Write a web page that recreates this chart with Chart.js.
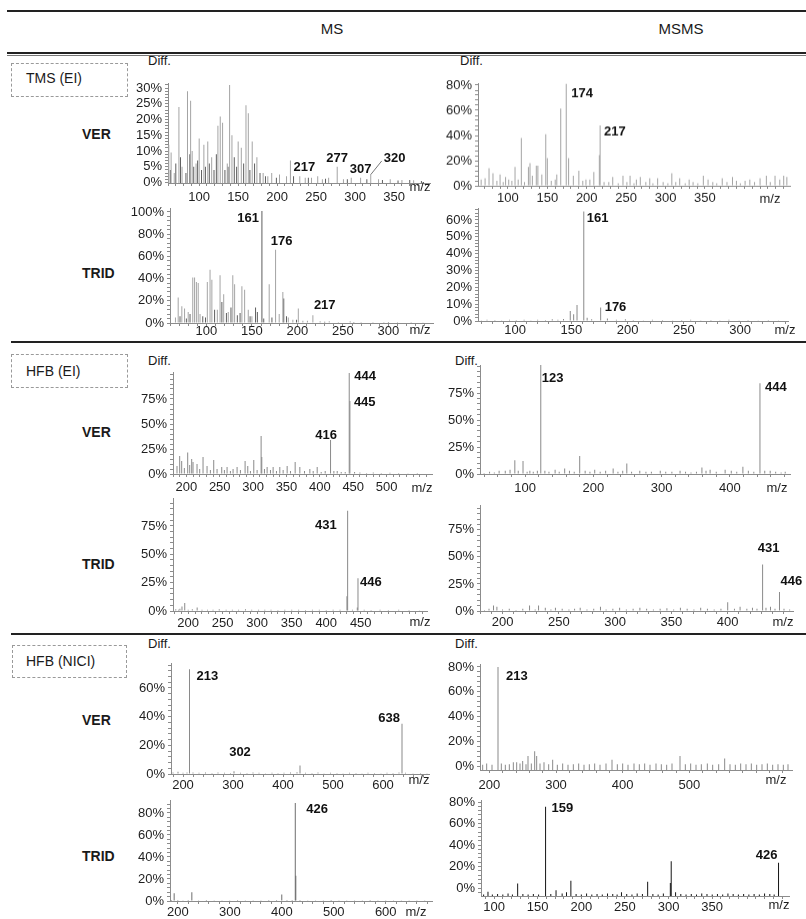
<!DOCTYPE html>
<html>
<head>
<meta charset="utf-8">
<title>Difference spectra – VER / TRID</title>
<script src="https://cdn.jsdelivr.net/npm/chart.js@4.4.1/dist/chart.umd.min.js"></script>
<style>
  html, body { margin: 0; padding: 0; background: #fff; }
  body { width: 806px; height: 919px; position: relative; overflow: hidden;
         font-family: "Liberation Sans", Arial, sans-serif; color: #1a1a1a; }
  .t { position: absolute; white-space: nowrap; line-height: 1; transform: translateY(-50%); }
  .c { transform: translate(-50%, -50%); }
  .b { font-weight: bold; font-size: 14px; }
  .hr { position: absolute; background: #222; }
  .box { position: absolute; border: 1px dashed #9a9a9a; box-sizing: border-box; }
  canvas { position: absolute; }
</style>
</head>
<body>

<!-- header rules and column titles -->
<div class="hr" style="left:7px;top:10px;width:799px;height:2px;"></div>
<div class="t c" style="left:332px;top:28px;font-size:15px;">MS</div>
<div class="t c" style="left:681px;top:28px;font-size:15px;">MSMS</div>
<div class="hr" style="left:7px;top:52px;width:799px;height:2px;"></div>
<div class="hr" style="left:7px;top:55px;width:799px;height:1px;background:#777;"></div>
<div class="hr" style="left:11px;top:341px;width:795px;height:2px;"></div>
<div class="hr" style="left:11px;top:633px;width:795px;height:2px;"></div>

<!-- derivatisation / ionisation boxes -->
<div class="box" style="left:11px;top:63px;width:117px;height:34px;"></div>
<div class="t" style="left:26px;top:78px;font-size:14px;">TMS (EI)</div>
<div class="box" style="left:11px;top:354px;width:117px;height:34px;"></div>
<div class="t" style="left:26px;top:371px;font-size:14px;">HFB (EI)</div>
<div class="box" style="left:12px;top:645px;width:115px;height:33px;"></div>
<div class="t" style="left:26px;top:661px;font-size:14px;">HFB (NICI)</div>

<!-- row labels -->
<div class="t b" style="left:82px;top:134px;">VER</div>
<div class="t b" style="left:82px;top:273px;">TRID</div>
<div class="t b" style="left:82px;top:432px;">VER</div>
<div class="t b" style="left:82px;top:564px;">TRID</div>
<div class="t b" style="left:82px;top:720px;">VER</div>
<div class="t b" style="left:82px;top:856px;">TRID</div>

<!-- y axis captions -->
<div class="t" style="left:148px;top:60px;font-size:13px;">Diff.</div>
<div class="t" style="left:460px;top:60px;font-size:13px;">Diff.</div>
<div class="t" style="left:148px;top:360px;font-size:13px;">Diff.</div>
<div class="t" style="left:455px;top:360px;font-size:13px;">Diff.</div>
<div class="t" style="left:148px;top:643px;font-size:13px;">Diff.</div>
<div class="t" style="left:455px;top:643px;font-size:13px;">Diff.</div>

<script>
// ---------------- data: m/z positions and difference (%) ----------------

// TMS (EI) – MS – VER
const tmsMsVerMz = [61, 64, 68, 74, 78, 85, 89, 91, 96, 100, 106, 111, 116, 124, 127, 130, 136, 139, 142, 150, 154, 160, 163, 168, 174, 182, 188, 193, 203, 212, 217, 229, 236, 244, 252, 258, 266, 277, 285, 295, 307, 320, 330, 345, 360, 375];
const tmsMsVerPct = [12, 9.5, 3, 24, 5, 29, 26, 10, 6, 14, 12, 13, 8, 18, 21, 19, 6, 31, 15, 13, 11, 24.5, 22, 13, 8, 3, 2, 3, 2.5, 2, 7, 2, 1.5, 1.5, 2, 1, 1.5, 5, 1, 1.5, 1.5, 2.5, 1, 1, 0.8, 0.7];
const tmsMsVerMz2 = [63, 70, 76, 83, 88, 93, 98, 103, 108, 113, 119, 122, 133, 137, 145, 148, 157, 165, 171, 178, 185, 199, 221, 240, 262, 290, 315, 335, 355, 370, 385];
const tmsMsVerPct2 = [4, 6, 8, 3, 9, 5, 7, 4, 5, 6, 4, 9, 4, 5, 8, 5, 6, 4, 6, 3, 2, 1.5, 2, 1.5, 1.2, 1, 1, 0.8, 0.6, 0.8, 0.5];
const tmsMsVerXTicks = [100, 150, 200, 250, 300, 350];
const tmsMsVerYTicks = [0, 5, 10, 15, 20, 25, 30];

// TMS (EI) – MSMS – VER
const tmsMsmsVerMz = [66, 71, 76, 81, 86, 90, 94, 97, 101, 105, 109, 113, 117, 121, 126, 128, 131, 136, 138, 143, 148, 150, 155, 160, 162, 167, 174, 177, 183, 190, 195, 199, 204, 209, 216, 217, 222, 228, 233, 240, 246, 251, 255, 260, 263, 268, 275, 280, 284, 290, 297, 303, 308, 313, 318, 325, 330, 335, 341, 348, 354, 360, 365, 372, 378, 385, 390, 395, 401, 407, 413, 420, 428, 433, 439, 445, 450, 454];
const tmsMsmsVerPct = [5, 6, 14, 10, 4, 9, 3, 7, 5, 4, 15, 5, 38, 3, 15, 18, 8, 16, 16, 9, 41, 22, 4, 5, 9, 61.5, 81, 22, 8, 12, 4, 5, 5, 11, 24.5, 48, 3, 3, 7, 2, 8, 3, 8, 2, 5, 7, 3, 6, 2, 6, 3, 2, 10, 3, 6, 2, 5, 3, 2, 8, 5, 3, 2, 6, 3, 7, 4, 2, 4, 5, 3, 6, 8, 3, 8, 5, 8, 7];
const tmsMsmsVerXTicks = [100, 150, 200, 250, 300, 350];
const tmsMsmsVerYTicks = [0, 20, 40, 60, 80];

// TMS (EI) – MS – TRID
const tmsMsTridMz = [66, 69, 73, 76, 80, 85, 87, 89, 91, 93, 101, 104, 106, 112, 115, 119, 124, 129, 131, 139, 142, 146, 150, 169, 176, 180, 184, 190, 195, 201, 206, 211, 217, 225, 235, 245, 258, 270, 283, 295, 310, 325, 338];
const tmsMsTridPct = [5, 23, 15, 13, 10, 41, 41, 37, 36, 8, 37, 48, 39, 12, 43, 26, 10, 43, 35, 33, 30, 12, 6, 35, 66, 8, 28, 5, 3, 13, 2, 2, 7, 1.5, 1.5, 1, 1.5, 1, 1, 0.8, 1, 1, 0.7];
const tmsMsTridMz2 = [71, 78, 82, 96, 99, 109, 117, 122, 127, 134, 137, 148, 154, 156, 161, 163, 172, 185, 188, 199, 230, 262, 300];
const tmsMsTridPct2 = [6, 4, 8, 6, 5, 12, 19, 9, 14, 7, 9, 6, 14, 10, 101, 4, 5, 22, 6, 3, 1.2, 1, 0.8];
const tmsMsTridXTicks = [100, 150, 200, 250, 300];
const tmsMsTridYTicks = [0, 20, 40, 60, 80, 100];

// TMS (EI) – MSMS – TRID
const tmsMsmsTridMz = [70, 75, 82, 88, 95, 101, 108, 114, 120, 127, 133, 138, 143, 149, 152, 155, 161, 164, 168, 176, 182, 190, 198, 205, 214, 222, 231, 240, 248, 256, 265, 274, 282, 290, 299, 307, 316, 325, 334];
const tmsMsmsTridPct = [0.5, 0.8, 0.6, 0.5, 0.7, 0.6, 0.8, 0.5, 0.7, 0.6, 1, 0.8, 1.2, 6, 4, 9.5, 65, 2, 1, 8, 1.5, 0.8, 1, 0.6, 0.5, 0.7, 0.6, 0.5, 0.6, 0.7, 0.5, 0.6, 0.5, 0.7, 0.5, 0.6, 0.5, 0.6, 0.5];
const tmsMsmsTridXTicks = [100, 150, 200, 250, 300];
const tmsMsmsTridYTicks = [0, 10, 20, 30, 40, 50, 60];

// HFB (EI) – MS – VER
const hfbEiMsVerMz = [186, 190, 193, 197, 202, 205, 208, 210, 216, 220, 225, 231, 236, 241, 246, 253, 257, 261, 266, 270, 276, 281, 288, 292, 296, 301, 306, 312, 313, 317, 321, 326, 330, 335, 340, 345, 351, 356, 363, 370, 377, 385, 390, 396, 402, 408, 416, 421, 426, 432, 438, 444, 445, 452, 460, 470, 480, 492, 505, 518, 532, 546];
const hfbEiMsVerPct = [8, 18, 13, 6, 21.5, 9, 15, 12, 10, 5, 17, 8, 4, 14, 5, 7, 4, 7, 3, 5, 7, 4, 13, 8, 3, 14, 4, 38, 17, 5, 7, 4, 7, 3, 7, 4, 8, 3, 12, 7, 3, 5, 3, 7, 2, 3, 34, 3, 3, 2, 2, 101, 73, 2, 1.5, 1, 1.5, 1, 1.2, 1, 0.8, 1];
const hfbEiMsVerXTicks = [200, 250, 300, 350, 400, 450, 500];
const hfbEiMsVerYTicks = [0, 25, 50, 75];

// HFB (EI) – MSMS – VER
const hfbEiMsmsVerMz = [40, 48, 55, 62, 71, 78, 85, 90, 97, 103, 107, 112, 118, 123, 129, 135, 144, 150, 158, 165, 172, 180, 188, 195, 202, 210, 218, 229, 236, 243, 249, 256, 268, 277, 285, 298, 306, 315, 327, 335, 343, 351, 359, 365, 371, 380, 393, 402, 410, 419, 427, 435, 444, 451, 459, 467, 475, 481];
const hfbEiMsmsVerPct = [1, 2, 1.5, 3, 3, 4, 12.7, 3, 12, 2, 3, 2, 3, 101, 3, 2, 4, 2, 5, 3, 2, 16.7, 3, 2, 4, 2, 3, 5, 2, 3, 9.7, 2, 3, 2, 2, 3, 2, 2, 3, 2, 1.5, 2, 6, 3, 4, 2, 4, 3, 2, 6.7, 3, 2, 84, 3, 3, 2, 1.5, 2];
const hfbEiMsmsVerXTicks = [100, 200, 300, 400];
const hfbEiMsmsVerYTicks = [0, 25, 50, 75];

// HFB (EI) – MS – TRID
const hfbEiMsTridMz = [182, 186, 188, 191, 195, 200, 206, 213, 220, 228, 236, 245, 255, 264, 273, 283, 292, 302, 311, 320, 330, 340, 350, 360, 370, 380, 390, 400, 410, 420, 430, 431, 438, 445, 446, 455, 465, 478, 490, 505, 520, 535];
const hfbEiMsTridPct = [1.5, 1, 2, 4, 7, 1, 1.5, 3, 1, 1.2, 1, 1.5, 1, 1.2, 1, 1.5, 1, 1, 1.2, 1, 0.8, 1, 1.2, 1, 0.8, 1, 1, 0.8, 1, 1.2, 13, 88.5, 1, 3, 29, 1, 0.8, 1, 0.8, 1, 0.8, 0.7];
const hfbEiMsTridXTicks = [200, 250, 300, 350, 400, 450];
const hfbEiMsTridYTicks = [0, 25, 50, 75];

// HFB (EI) – MSMS – TRID
const hfbEiMsmsTridMz = [184, 188, 192, 195, 200, 206, 212, 218, 224, 229, 232, 238, 243, 247, 253, 259, 264, 269, 275, 281, 287, 292, 298, 304, 310, 316, 322, 328, 334, 340, 346, 352, 358, 364, 370, 376, 382, 388, 394, 400, 406, 411, 417, 422, 426, 431, 434, 438, 442, 446, 450, 455];
const hfbEiMsmsTridPct = [1, 2, 5, 4, 1.5, 2, 1, 2, 5, 1.5, 5, 3, 1.5, 3, 2, 1.5, 2, 3, 1.5, 2, 4, 1.5, 2, 3, 1.5, 2, 3, 2, 1.5, 2, 2.5, 1.5, 3, 2, 1.5, 3, 2, 1.5, 2, 8, 2, 4, 2, 3, 2, 43, 3, 4, 2, 17.5, 2, 1.5];
const hfbEiMsmsTridXTicks = [200, 250, 300, 350, 400];
const hfbEiMsmsTridYTicks = [0, 25, 50, 75];

// HFB (NICI) – MS – VER
const hfbNiciMsVerMz = [180, 190, 200, 208, 213, 220, 232, 245, 258, 270, 283, 295, 302, 315, 328, 340, 352, 365, 378, 390, 402, 415, 428, 434, 445, 458, 470, 482, 495, 508, 520, 533, 546, 558, 570, 583, 596, 608, 620, 632, 638, 645, 660, 675, 688];
const hfbNiciMsVerPct = [1, 1.5, 0.8, 1, 73, 1, 0.8, 1, 0.7, 1, 0.8, 0.7, 2, 0.8, 0.7, 1, 0.8, 0.6, 0.8, 0.7, 0.8, 1, 1.2, 6, 0.8, 0.7, 1, 0.6, 0.8, 0.7, 0.6, 0.8, 0.7, 0.6, 0.8, 0.7, 0.6, 0.8, 0.7, 1, 35, 0.8, 0.6, 0.7, 0.5];
const hfbNiciMsVerXTicks = [200, 300, 400, 500, 600];
const hfbNiciMsVerYTicks = [0, 20, 40, 60];

// HFB (NICI) – MSMS – VER
const hfbNiciMsmsVerMz = [190, 196, 204, 213, 218, 224, 230, 236, 241, 246, 250, 255, 258, 263, 268, 271, 276, 282, 289, 295, 302, 310, 318, 326, 334, 342, 350, 358, 366, 375, 384, 392, 400, 408, 417, 425, 433, 441, 450, 458, 466, 474, 486, 494, 502, 510, 518, 527, 535, 544, 553, 561, 569, 577, 585, 593, 601, 609, 617, 625, 633, 641, 648];
const hfbNiciMsmsVerPct = [1, 2, 1, 80, 2, 1, 1.5, 3, 3, 2, 4, 1.5, 8, 2, 12, 8, 2, 3, 1.5, 5, 1, 2, 1, 1.5, 2, 1, 1.5, 2, 1, 2, 5, 1.5, 2, 1, 2, 1.5, 2, 1, 2, 1.5, 1, 2, 8, 1.5, 2, 1, 1.5, 2, 1, 1.5, 6, 1.5, 1, 2, 1.5, 2, 1, 1.5, 2, 1, 1.5, 1, 1.5];
const hfbNiciMsmsVerXTicks = [200, 300, 400, 500];
const hfbNiciMsmsVerYTicks = [0, 20, 40, 60, 80];

// HFB (NICI) – MS – TRID
const hfbNiciMsTridMz = [188, 193, 200, 210, 220, 227, 240, 255, 270, 285, 300, 315, 330, 345, 360, 375, 390, 400, 410, 420, 426, 427, 435, 450, 465, 480, 495, 510, 525, 540, 555, 570, 585, 600, 615, 630, 645, 660, 675];
const hfbNiciMsTridPct = [1, 7, 0.8, 0.6, 0.8, 8, 0.6, 0.8, 0.6, 0.7, 0.6, 0.8, 0.6, 0.7, 0.6, 0.8, 1, 6, 1, 0.8, 89, 23, 0.8, 0.6, 0.7, 0.6, 0.8, 0.7, 0.6, 0.7, 0.6, 0.8, 0.6, 0.7, 0.6, 0.7, 0.6, 0.7, 0.6];
const hfbNiciMsTridXTicks = [200, 300, 400, 500, 600];
const hfbNiciMsTridYTicks = [0, 20, 40, 60, 80];

// HFB (NICI) – MSMS – TRID
const hfbNiciMsmsTridMz = [88, 93, 98, 104, 110, 116, 121, 127, 133, 139, 145, 151, 159, 165, 171, 178, 183, 188, 194, 200, 206, 212, 218, 224, 230, 236, 241, 246, 252, 258, 264, 270, 276, 282, 288, 294, 302, 303, 308, 314, 320, 326, 332, 338, 344, 350, 356, 362, 368, 374, 380, 386, 392, 398, 404, 410, 416, 421, 426];
const hfbNiciMsmsTridPct = [-6, -3.4, -6, -5.5, -6, -5, -6, 4.3, -5.5, -6, -5.5, -6, 75.6, -5.5, -2, -5, -4, 6.8, -5.5, -6, -5, -6, -5.5, -6, -5, -5.5, -6, -4, -5.5, -6, -5, -5.5, 5.9, -5.5, -6, -5, 4.6, 25, -4, -5.5, -6, -5.5, -6, -5, -5.5, -6, -5.5, -6, -5, -5.5, -6, -5.5, -6, -5.5, -6, -5, -5.5, -6, 23.5];
const hfbNiciMsmsTridXTicks = [100, 150, 200, 250, 300, 350];
const hfbNiciMsmsTridYTicks = [0, 20, 40, 60, 80];

// ---------------- styling ----------------
const FONT = '"Liberation Sans", Arial, sans-serif';
const LIGHT = '#a4a4a4';
const DARK = '#5e5e5e';
const MID = '#8a8a8a';
const AXIS = '#8c8c8c';

Chart.defaults.font.family = FONT;
Chart.defaults.font.size = 13;
Chart.defaults.color = '#1e1e1e';
Chart.defaults.animation = false;

// area = [left, top, right, bottom] of the plotting region in page pixels
const panels = [
  { area: [168, 83, 430, 183], x: [60, 396], y: [-0.16, 31.6],
    xTicks: tmsMsVerXTicks, yTicks: tmsMsVerYTicks, xMinor: 10, yMinor: 1, xPad: 4,
    series: [{ mz: tmsMsVerMz, pct: tmsMsVerPct, color: LIGHT }, { mz: tmsMsVerMz2, pct: tmsMsVerPct2, color: DARK }],
    notes: [{ mz: 217, at: 4.9, dx: 3 }, { mz: 277, at: 7.8, dx: 0, align: 'center' },
            { mz: 307, at: 4, dx: 0, align: 'center' }, { mz: 320, at: 7.8, dx: 13, leader: true }],
    unit: { dx: -10, dy: 4 } },
  { area: [478, 83, 790, 185.5], x: [62, 458], y: [0, 81.6],
    xTicks: tmsMsmsVerXTicks, yTicks: tmsMsmsVerYTicks, xMinor: 10, yMinor: 4, xPad: 1.5,
    series: [{ mz: tmsMsmsVerMz, pct: tmsMsmsVerPct, color: LIGHT }],
    notes: [{ mz: 174, at: 73.6, dx: 5 }, { mz: 217, at: 42.6, dx: 4 }],
    unit: { dx: -20, dy: 13 } },
  { area: [170, 208, 433, 323], x: [60, 349], y: [0, 103.6],
    xTicks: tmsMsTridXTicks, yTicks: tmsMsTridYTicks, xMinor: 10, yMinor: 4, xPad: -2,
    series: [{ mz: tmsMsTridMz, pct: tmsMsTridPct, color: LIGHT }, { mz: tmsMsTridMz2, pct: tmsMsTridPct2, color: DARK }],
    notes: [{ mz: 161, at: 94.6, dx: -3, align: 'right' }, { mz: 176, at: 73.9, dx: 6, align: 'center' },
            { mz: 217, at: 16.2, dx: 1 }],
    unit: { dx: -13, dy: 7 } },
  { area: [478, 208, 788, 321], x: [67, 342.5], y: [0, 67.1],
    xTicks: tmsMsmsTridXTicks, yTicks: tmsMsmsTridYTicks, xMinor: 10, yMinor: 2, xPad: -1,
    series: [{ mz: tmsMsmsTridMz, pct: tmsMsmsTridPct, color: MID }],
    notes: [{ mz: 161, at: 61.2, dx: 3 }, { mz: 176, at: 8.3, dx: 4 }],
    unit: { dx: -3, dy: 9 } },
  { area: [173, 372, 432, 474], x: [180, 568], y: [0, 102],
    xTicks: hfbEiMsVerXTicks, yTicks: hfbEiMsVerYTicks, xMinor: 10, yMinor: 5, xPad: 3,
    series: [{ mz: hfbEiMsVerMz, pct: hfbEiMsVerPct, color: MID }],
    notes: [{ mz: 444, at: 98, dx: 5 }, { mz: 445, at: 72, dx: 4 }, { mz: 416, at: 39, dx: -4.5, align: 'center' }],
    unit: { dx: -10, dy: 14 } },
  { area: [480, 365, 790, 474], x: [34, 488], y: [0, 101],
    xTicks: hfbEiMsmsVerXTicks, yTicks: hfbEiMsmsVerYTicks, xMinor: 20, yMinor: 5, xPad: 4,
    series: [{ mz: hfbEiMsmsVerMz, pct: hfbEiMsmsVerPct, color: MID }],
    notes: [{ mz: 123, at: 89, dx: 1 }, { mz: 444, at: 80.6, dx: 5 }],
    unit: { dx: -13, dy: 14 } },
  { area: [173, 498, 427, 611], x: [178, 546], y: [0, 99.7],
    xTicks: hfbEiMsTridXTicks, yTicks: hfbEiMsTridYTicks, xMinor: 10, yMinor: 5, xPad: 2,
    series: [{ mz: hfbEiMsTridMz, pct: hfbEiMsTridPct, color: MID }],
    notes: [{ mz: 431, at: 75.9, dx: -11, align: 'right' }, { mz: 446, at: 25.6, dx: 2 }],
    unit: { dx: -7, dy: 11 } },
  { area: [480, 505, 793, 611], x: [180, 458], y: [0, 98],
    xTicks: hfbEiMsmsTridXTicks, yTicks: hfbEiMsmsTridYTicks, xMinor: 10, yMinor: 5, xPad: 1,
    series: [{ mz: hfbEiMsmsTridMz, pct: hfbEiMsmsTridPct, color: MID }],
    notes: [{ mz: 431, at: 57.4, dx: 6, align: 'center' }, { mz: 446, at: 26.9, dx: 1 }],
    unit: { dx: -10, dy: 11 } },
  { area: [171, 663, 429, 774], x: [176, 692], y: [0, 77.4],
    xTicks: hfbNiciMsVerXTicks, yTicks: hfbNiciMsVerYTicks, xMinor: 20, yMinor: 4, xPad: 1,
    series: [{ mz: hfbNiciMsVerMz, pct: hfbNiciMsVerPct, color: MID }],
    notes: [{ mz: 213, at: 67.7, dx: 7 }, { mz: 302, at: 14.7, dx: 6, align: 'center' },
            { mz: 638, at: 39, dx: -2, align: 'right' }],
    unit: { dx: -10, dy: 6 } },
  { area: [480, 664, 792, 770], x: [186, 654], y: [-3.23, 82.4],
    xTicks: hfbNiciMsmsVerXTicks, yTicks: hfbNiciMsmsVerYTicks, xMinor: 20, yMinor: 4, xPad: 5,
    series: [{ mz: hfbNiciMsmsVerMz, pct: hfbNiciMsmsVerPct, color: MID }],
    notes: [{ mz: 213, at: 72, dx: 8 }],
    unit: { dx: -16, dy: 10 } },
  { area: [170, 800, 432, 901], x: [185, 689], y: [0, 91.8],
    xTicks: hfbNiciMsTridXTicks, yTicks: hfbNiciMsTridYTicks, xMinor: 20, yMinor: 4, xPad: 1,
    series: [{ mz: hfbNiciMsTridMz, pct: hfbNiciMsTridPct, color: '#6e6e6e' }],
    notes: [{ mz: 426, at: 83.6, dx: 11 }],
    unit: { dx: -16, dy: 11 } },
  { area: [481, 800, 789, 896], x: [85, 438], y: [-7.44, 81.9],
    xTicks: hfbNiciMsmsTridXTicks, yTicks: hfbNiciMsmsTridYTicks, xMinor: 10, yMinor: 4, xPad: 1,
    series: [{ mz: hfbNiciMsmsTridMz, pct: hfbNiciMsmsTridPct, color: '#151515' }],
    notes: [{ mz: 159, at: 74.4, dx: 6 }, { mz: 426, at: 30.7, dx: -1, align: 'right' }],
    unit: { dx: -10, dy: 9 } }
];

// major ticks carry a label, minor ticks are bare marks
function tickList(min, max, major, minorStep) {
  const majors = new Set(major);
  const out = major.filter(v => v >= min - 1e-9 && v <= max + 1e-9).map(v => ({ value: v }));
  const start = Math.ceil(min / minorStep) * minorStep;
  for (let v = start; v <= max + 1e-9; v += minorStep) {
    const r = Math.round(v * 1000) / 1000;
    if (!majors.has(r)) out.push({ value: r });
  }
  out.sort((a, b) => a.value - b.value);
  return out;
}

// peak labels, leader line and the m/z caption
const notePlugin = {
  id: 'notes',
  afterDatasetsDraw(chart, args, opts) {
    const { ctx, chartArea } = chart;
    const xs = chart.scales.x, ys = chart.scales.y;
    ctx.save();
    ctx.fillStyle = '#111';
    ctx.textBaseline = 'middle';
    ctx.font = 'bold 13px ' + FONT;
    for (const n of opts.notes || []) {
      const px = xs.getPixelForValue(n.mz) + (n.dx || 0);
      const py = ys.getPixelForValue(n.at);
      ctx.textAlign = n.align || 'left';
      ctx.fillText(String(n.mz), px, py);
      if (n.leader) {
        let top = 0;
        for (const s of opts.series) {
          const i = s.mz.indexOf(n.mz);
          if (i >= 0) top = s.pct[i];
        }
        ctx.strokeStyle = '#777';
        ctx.lineWidth = 1;
        ctx.beginPath();
        ctx.moveTo(xs.getPixelForValue(n.mz), ys.getPixelForValue(top));
        ctx.lineTo(px - 2, py + 3);
        ctx.stroke();
      }
    }
    if (opts.unit) {
      ctx.font = '13px ' + FONT;
      ctx.textAlign = 'center';
      ctx.fillStyle = '#1e1e1e';
      ctx.fillText('m/z', chartArea.right + opts.unit.dx, chartArea.bottom + opts.unit.dy);
    }
    ctx.restore();
  }
};

function buildPanel(p) {
  const [L, T, R, B] = p.area;
  const yw = 50, xh = 30, pt = 14, pr = 40;
  const cv = document.createElement('canvas');
  const w = (R - L) + yw + pr, h = (B - T) + pt + xh;
  cv.width = w; cv.height = h;
  cv.style.width = w + 'px'; cv.style.height = h + 'px';
  cv.style.left = (L - yw) + 'px'; cv.style.top = (T - pt) + 'px';
  document.body.appendChild(cv);

  const yMajors = new Set(p.yTicks);
  const xMajors = new Set(p.xTicks);

  new Chart(cv, {
    type: 'bar',
    data: {
      datasets: p.series.map(s => ({
        data: s.mz.map((m, i) => ({ x: m, y: s.pct[i] })),
        backgroundColor: s.color,
        borderWidth: 0,
        barThickness: 1,
        inflateAmount: 0,
        grouped: false,
        base: p.y[0]
      }))
    },
    options: {
      responsive: false,
      maintainAspectRatio: false,
      events: [],
      layout: { padding: { left: 0, top: pt, right: pr, bottom: 0 } },
      plugins: {
        legend: { display: false },
        tooltip: { enabled: false },
        notes: { notes: p.notes, unit: p.unit, series: p.series }
      },
      scales: {
        x: {
          type: 'linear', min: p.x[0], max: p.x[1], offset: false,
          afterBuildTicks: sc => { sc.ticks = tickList(p.x[0], p.x[1], p.xTicks, p.xMinor); },
          afterFit: sc => { sc.height = xh; },
          ticks: { autoSkip: false, maxRotation: 0, minRotation: 0, padding: p.xPad,
                   callback: v => (xMajors.has(v) ? String(v) : '') },
          grid: { offset: false, drawOnChartArea: false, drawTicks: true, tickLength: 3, color: AXIS, lineWidth: 1 },
          border: { display: true, color: AXIS, width: 1 }
        },
        y: {
          type: 'linear', min: p.y[0], max: p.y[1],
          afterBuildTicks: sc => { sc.ticks = tickList(p.y[0], p.y[1], p.yTicks, p.yMinor); },
          afterFit: sc => { sc.width = yw; },
          ticks: { autoSkip: false, padding: 3,
                   callback: v => (yMajors.has(v) ? v + '%' : '') },
          grid: { drawOnChartArea: false, drawTicks: true, tickLength: 3, color: AXIS, lineWidth: 1 },
          border: { display: true, color: AXIS, width: 1 }
        }
      }
    },
    plugins: [notePlugin]
  });
}

panels.forEach(buildPanel);
</script>
</body>
</html>
